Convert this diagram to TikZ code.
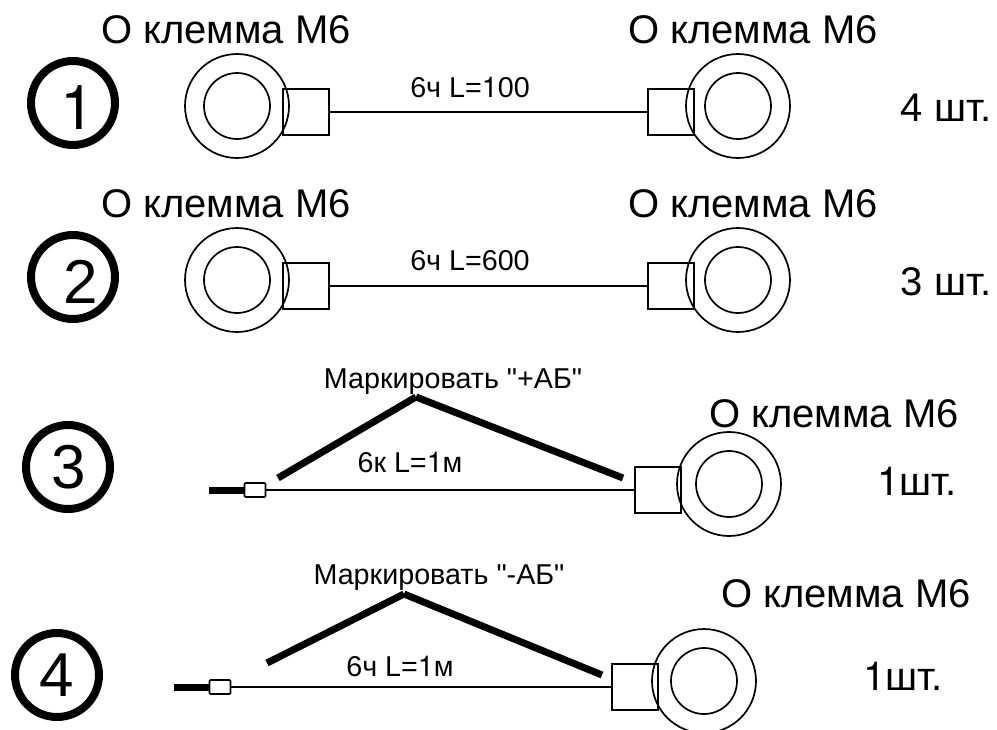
\documentclass[tikz,border=0pt]{standalone}
\usepackage{fontspec}
\setmainfont{Liberation Sans}[Ligatures=TeXOff]
\newfontfamily\hvfont{TeX Gyre Heros}
\newcommand{\fs}[1]{\fontsize{#1}{#1}\selectfont}
\newcommand{\onedigit}{{\hvfont 1}}
\tikzset{
  ringout/.style={circle,draw,line width=1.7pt,minimum size=104pt,inner sep=0pt},
  ringin/.style={circle,draw,line width=1.7pt,minimum size=66pt,inner sep=0pt},
  lug/.style={rectangle,draw,line width=1.7pt,minimum size=46pt,inner sep=0pt},
  wire/.style={line width=1.7pt},
  heavy/.style={line width=7pt},
  ferrule/.style={rectangle,draw,fill=white,rounded corners=1pt,line width=1.7pt,minimum width=21pt,minimum height=14pt,inner sep=0pt},
  num/.style={circle,draw,line width=8pt,inner sep=0pt,minimum size=84pt},
  digit/.style={inner sep=0pt,font=\fs{62}},
  big/.style={inner sep=0pt,font=\fs{40}},
  mid/.style={inner sep=0pt,font=\fs{28.7}}
}
\begin{document}
\begin{tikzpicture}[x=1pt,y=-1pt]
\useasboundingbox (0,0) rectangle (997,729);
% row 1
\node[num] (n1) at (73,103) {};
\node[digit] (d1) at (78,108) {\onedigit};
\node[big] (t1a) at (226,30) {О клемма М6};
\node[big] (t1b) at (753,30) {О клемма М6};
\node[ringout] (r1a) at (237,106) {};
\node[ringin] (i1a) at (237,106) {};
\node[lug] (l1a) at (306,112) {};
\node[ringout] (r1b) at (738,106) {};
\node[ringin] (i1b) at (738,106) {};
\node[lug] (l1b) at (671,112) {};
\draw[wire] (l1a) -- (l1b);
\node[mid] (w1) at (470,87) {6ч L=\onedigit00};
\node[big] (q1) at (946,108) {4 шт.};
% row 2
\node[num] (n2) at (73,277) {};
\node[digit] (d2) at (81,282) {2};
\node[big] (t2a) at (226,204) {О клемма М6};
\node[big] (t2b) at (753,204) {О клемма М6};
\node[ringout] (r2a) at (237,280) {};
\node[ringin] (i2a) at (237,280) {};
\node[lug] (l2a) at (306,286) {};
\node[ringout] (r2b) at (738,280) {};
\node[ringin] (i2b) at (738,280) {};
\node[lug] (l2b) at (671,286) {};
\draw[wire] (l2a) -- (l2b);
\node[mid] (w2) at (470,261) {6ч L=600};
\node[big] (q2) at (946,282) {3 шт.};
% row 3
\node[num] (n3) at (68,467) {};
\node[digit] (d3) at (69,467) {3};
\node[big] (t3) at (834,414) {О клемма М6};
\node[ringout] (r3) at (729,484) {};
\node[ringin] (i3) at (729,484) {};
\node[lug] (l3) at (658,490) {};
\node[ferrule] (f3) at (255,490) {};
\coordinate (s3) at (209,490);
\draw[heavy] (s3) -- (f3);
\draw[wire] (f3) -- (l3);
\coordinate (a3) at (278,478);
\coordinate (b3) at (416,397);
\coordinate (c3) at (623,478);
\draw[heavy] (a3) -- (b3);
\draw[heavy] (b3) -- (c3);
\node[mid] (m3) at (453,382) {Маркировать "+АБ"};
\node[mid] (w3) at (410,462) {6к L=\onedigit м};
\node[big] (q3) at (917,481) {\onedigit шт.};
% row 4
\node[num] (n4) at (57,675) {};
\node[digit] (d4) at (57,675) {4};
\node[big] (t4) at (846,594) {О клемма М6};
\node[ringout] (r4) at (704,681) {};
\node[ringin] (i4) at (704,681) {};
\node[lug] (l4) at (635,687) {};
\node[ferrule] (f4) at (220,687) {};
\coordinate (s4) at (174,687);
\draw[heavy] (s4) -- (f4);
\draw[wire] (f4) -- (l4);
\coordinate (a4) at (267,663);
\coordinate (b4) at (404,594);
\coordinate (c4) at (602,675);
\draw[heavy] (a4) -- (b4);
\draw[heavy] (b4) -- (c4);
\node[mid] (m4) at (439,578) {Маркировать "-АБ"};
\node[mid] (w4) at (400,666) {6ч L=\onedigit м};
\node[big] (q4) at (903,676) {\onedigit шт.};
\end{tikzpicture}
\end{document}
